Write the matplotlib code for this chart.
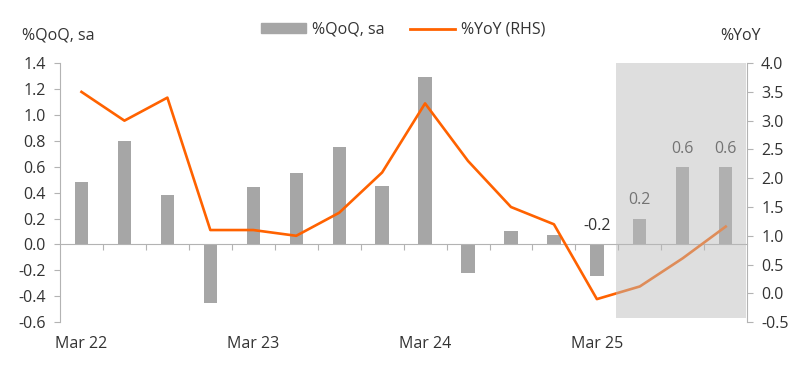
import matplotlib.pyplot as plt
from matplotlib.lines import Line2D
from matplotlib.patches import Patch

plt.rcParams["font.family"] = ["Open Sans", "DejaVu Sans"]

# Quarterly data, Mar 22 .. Dec 25
quarters = ["Mar 22", "Jun 22", "Sep 22", "Dec 22",
            "Mar 23", "Jun 23", "Sep 23", "Dec 23",
            "Mar 24", "Jun 24", "Sep 24", "Dec 24",
            "Mar 25", "Jun 25", "Sep 25", "Dec 25"]
qoq = [0.48, 0.80, 0.38, -0.45,
       0.44, 0.55, 0.75, 0.45,
       1.29, -0.22, 0.10, 0.07,
       -0.24, 0.20, 0.60, 0.60]
yoy = [3.5, 3.0, 3.4, 1.1,
       1.1, 1.0, 1.4, 2.1,
       3.3, 2.3, 1.5, 1.2,
       -0.1, 0.12, 0.61, 1.16]
label_idx = [12, 13, 14, 15]
label_txt = ["-0.2", "0.2", "0.6", "0.6"]
forecast_start = 12.45

ORANGE = "#ff6200"
BAR = "#a6a6a6"
TEXT = "#333333"
AXIS = "#b3b3b3"

fig = plt.figure(figsize=(8, 3.69), dpi=100)
ax = fig.add_axes([0.075, 0.127, 0.859, 0.702])
ax2 = ax.twinx()

x = list(range(len(quarters)))
ax.bar(x, qoq, width=0.31, color=BAR, zorder=2)

for i, t in zip(label_idx, label_txt):
    ax.annotate(t, (i, max(qoq[i], 0)), xytext=(0, 13), textcoords="offset points",
                ha="center", va="center", fontsize=11.5, color=TEXT)

ax.set_xlim(-0.5, 15.5)
ax.set_ylim(-0.6, 1.4)
ax.set_yticks([-0.6 + 0.2 * k for k in range(11)])
ax.yaxis.set_major_formatter(plt.FormatStrFormatter("%.1f"))

for s in ["top", "right"]:
    ax.spines[s].set_visible(False)
ax.spines["left"].set_color(AXIS)
ax.spines["bottom"].set_position(("data", 0))
ax.spines["bottom"].set_color(AXIS)
ax.set_xticks([k + 0.5 for k in range(15)])
ax.tick_params(axis="x", length=4, color=AXIS, labelbottom=False)
ax.tick_params(axis="y", length=4, color=AXIS, labelcolor=TEXT, labelsize=11.5, pad=6)

for i in [0, 4, 8, 12]:
    ax.text(i, -0.085, quarters[i], transform=ax.get_xaxis_transform(),
            ha="center", va="center", fontsize=11.5, color=TEXT)

ax2.plot(x, yoy, color=ORANGE, lw=1.9, zorder=3)
ax2.set_ylim(-0.5, 4.0)
ax2.set_yticks([-0.5 + 0.5 * k for k in range(10)])
ax2.yaxis.set_major_formatter(plt.FormatStrFormatter("%.1f"))
for s in ["top", "left", "bottom"]:
    ax2.spines[s].set_visible(False)
ax2.spines["right"].set_color(AXIS)
ax2.tick_params(axis="y", length=4, color=AXIS, labelcolor=TEXT, labelsize=11.5, pad=6)

# forecast shading drawn on top of everything
ax2.fill_between([forecast_start, 15.47], -0.43, 4.05, color="#bbbbbb",
                 alpha=0.48, lw=0, zorder=5)

fig.text(0.027, 0.905, "%QoQ, sa", ha="left", va="center", fontsize=11.5, color=TEXT)
fig.text(0.9, 0.902, "%YoY", ha="left", va="center", fontsize=11.5, color=TEXT)

handles = [Patch(color=BAR), Line2D([], [], color=ORANGE, lw=2)]
fig.legend(handles, ["%QoQ, sa", "%YoY (RHS)"], loc="center", ncol=2,
           bbox_to_anchor=(0.504, 0.919), frameon=False, fontsize=11.5,
           handlelength=2.8, handleheight=0.6, handletextpad=0.4,
           columnspacing=1.6, labelcolor=TEXT)

fig.savefig("out.png", dpi=100)
